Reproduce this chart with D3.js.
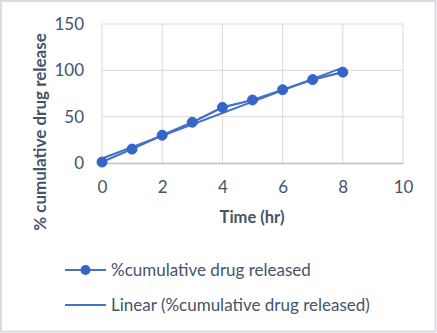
<!DOCTYPE html>
<html>
<head>
<meta charset="utf-8">
<script src="https://cdn.jsdelivr.net/npm/d3@7"></script>
<style>
	body { margin: 0; background: #fff; }
	text { font-family: Lato, 'Open Sans', sans-serif; fill: #44546a; }
</style>
</head>
<body>
<svg id="chart" width="437" height="333"></svg>
<script>
// data
const timeHr = [0, 1, 2, 3, 4, 5, 6, 7, 8];
const released = [1, 15, 30, 44, 60, 68, 79, 90, 98];
const xTicks = [0, 2, 4, 6, 8, 10];
const yTicks = [0, 50, 100, 150];
const seriesName = '%cumulative drug released';
const trendName = 'Linear (%cumulative drug released)';

const blue = '#4472c4';
const markerBlue = '#3565c6';
const textCol = '#44546a';

const svg = d3.select('#chart');
const width = +svg.attr('width'),
	height = +svg.attr('height');

// chart frame
svg
	.append('rect')
	.attr('x', 1)
	.attr('y', 1)
	.attr('width', width - 2.5)
	.attr('height', height - 2.5)
	.attr('fill', '#fff')
	.attr('stroke', '#d9dce1')
	.attr('stroke-width', 2);

const x = d3.scaleLinear().domain([0, 10]).range([102, 403]);
const y = d3.scaleLinear().domain([0, 150]).range([163, 24]);

// grid
const grid = svg.append('g');
grid
	.selectAll('.gx')
	.data(xTicks)
	.enter()
	.append('line')
	.attr('x1', (d) => x(d))
	.attr('x2', (d) => x(d))
	.attr('y1', y(0))
	.attr('y2', y(150))
	.attr('stroke', '#d9d9d9')
	.attr('stroke-width', 1);
grid
	.selectAll('.gy')
	.data(yTicks.filter((d) => d > 0))
	.enter()
	.append('line')
	.attr('x1', x(0))
	.attr('x2', x(10))
	.attr('y1', (d) => y(d))
	.attr('y2', (d) => y(d))
	.attr('stroke', '#d9d9d9')
	.attr('stroke-width', 1);

// axes
const xAxis = svg
	.append('g')
	.attr('transform', 'translate(0,' + y(0) + ')')
	.call(d3.axisBottom(x).tickValues(xTicks).tickSize(0).tickPadding(18));
xAxis.select('.domain').attr('stroke', '#bfbfbf').attr('stroke-width', 1.5);
xAxis.selectAll('text').attr('font-size', 17).style('font-family', 'Lato, sans-serif').attr('fill', textCol);

const yAxis = svg
	.append('g')
	.attr('transform', 'translate(' + x(0) + ',0)')
	.call(d3.axisLeft(y).tickValues(yTicks).tickSize(0).tickPadding(18));
yAxis.select('.domain').remove();
yAxis.selectAll('text').attr('font-size', 17).style('font-family', 'Lato, sans-serif').attr('fill', textCol);

// axis titles
svg
	.append('text')
	.attr('x', 252)
	.attr('y', 223)
	.attr('text-anchor', 'middle')
	.attr('font-size', 16.5)
	.attr('font-weight', 'bold')
	.text('Time (hr)');

svg
	.append('text')
	.attr('transform', 'translate(46,' + 132 + ') rotate(-90)')
	.attr('text-anchor', 'middle')
	.attr('font-size', 17)
	.attr('font-weight', 'bold')
	.text('% cumulative drug release');

// linear trend (least squares)
const n = timeHr.length;
const mx = d3.mean(timeHr),
	my = d3.mean(released);
let sxy = 0,
	sxx = 0;
for (var i = 0; i < n; i++) {
	sxy += (timeHr[i] - mx) * (released[i] - my);
	sxx += (timeHr[i] - mx) * (timeHr[i] - mx);
}
const slope = sxy / sxx;
const icpt = my - slope * mx;
const xMin = d3.min(timeHr),
	xMax = d3.max(timeHr);

svg
	.append('line')
	.attr('x1', x(xMin))
	.attr('y1', y(icpt + slope * xMin))
	.attr('x2', x(xMax))
	.attr('y2', y(icpt + slope * xMax))
	.attr('stroke', blue)
	.attr('stroke-width', 2);

// series line
const line = d3
	.line()
	.x((d, i) => x(timeHr[i]))
	.y((d) => y(d));

svg
	.append('path')
	.datum(released)
	.attr('d', line)
	.attr('fill', 'none')
	.attr('stroke', blue)
	.attr('stroke-width', 2.2);

svg
	.selectAll('.pt')
	.data(released)
	.enter()
	.append('circle')
	.attr('cx', (d, i) => x(timeHr[i]))
	.attr('cy', (d) => y(d))
	.attr('r', 5)
	.attr('fill', markerBlue)
	.attr('stroke', markerBlue)
	.attr('stroke-width', 1);

// legend
const legend = svg.append('g');
const rows = [seriesName, trendName];
rows.forEach(function (name, i) {
	const ly = 270 + i * 35;
	legend
		.append('line')
		.attr('x1', 65)
		.attr('x2', 106)
		.attr('y1', ly)
		.attr('y2', ly)
		.attr('stroke', blue)
		.attr('stroke-width', 2);
	if (i === 0) {
		legend
			.append('circle')
			.attr('cx', 85.5)
			.attr('cy', ly)
			.attr('r', 5)
			.attr('fill', markerBlue);
	}
	legend
		.append('text')
		.attr('x', 111)
		.attr('y', ly + 6)
		.attr('font-size', 17)
		.text(name);
});
</script>
</body>
</html>
